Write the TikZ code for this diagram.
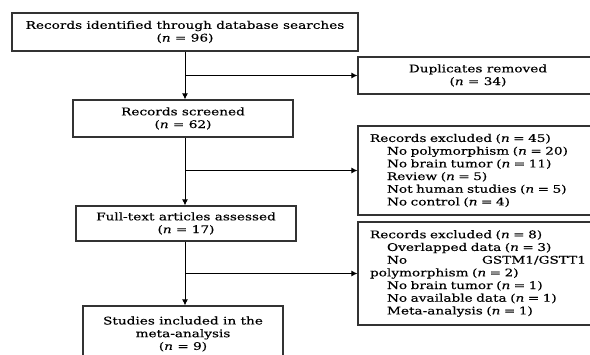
\documentclass[tikz,border=0pt]{standalone}
\usepackage{fontspec}
\setmainfont{DejaVu Serif}[FakeStretch=1.3,FakeBold=0.4]
\usetikzlibrary{arrows.meta}
\newcommand{\ind}{\hspace*{17pt}}
\newcommand{\nn}{\textit{n}}
\begin{document}
\begin{tikzpicture}[x=1pt,y=-1pt,
    box/.style={draw=black!80,line width=1.2pt,rectangle,inner sep=0pt,
      font=\fontsize{10.5}{12.7}\selectfont},
    cbox/.style={box,align=center},
    lbox/.style={box,align=left,text width=216pt,minimum width=240pt},
    arr/.style={-{Latex[length=6pt,width=6pt]},line width=1pt}]
  \useasboundingbox (0,0) rectangle (590,355);

  % boxes of the main column
  \begin{scope}[every node/.style={cbox}]
    \node[minimum width=346pt,minimum height=38pt] (ident) at (185,32)
      {Records identified through database searches\\(\nn{} = 96)};
    \node[minimum width=220pt,minimum height=37pt] (screen) at (183,118.5)
      {Records screened\\(\nn{} = 62)};
    \node[minimum width=220pt,minimum height=35pt] (full) at (186,223.5)
      {Full-text articles assessed\\(\nn{} = 17)};
    \node[minimum width=200pt,minimum height=56pt] (incl) at (183,334)
      {Studies included in the\\meta-analysis\\(\nn{} = 9)};
  \end{scope}

  % boxes on the right
  \node[cbox,minimum width=240pt,minimum height=37pt] (dup) at (478,75.5)
    {Duplicates removed\\(\nn{} = 34)};
  \node[lbox,minimum height=89pt] (excla) at (478,170.5)
    {Records excluded (\nn{} = 45)\\
     \ind No polymorphism (\nn{} = 20)\\
     \ind No brain tumor (\nn{} = 11)\\
     \ind Review (\nn{} = 5)\\
     \ind Not human studies (\nn{} = 5)\\
     \ind No control (\nn{} = 4)};
  \node[lbox,minimum height=103pt] (exclb) at (478,273.5)
    {Records excluded (\nn{} = 8)\\
     \ind Overlapped data (\nn{} = 3)\\
     \ind No\hfill GSTM1/GSTT1\\
     polymorphism (\nn{} = 2)\\
     \ind No brain tumor (\nn{} = 1)\\
     \ind No available data (\nn{} = 1)\\
     \ind Meta-analysis (\nn{} = 1)};

  \begin{scope}[every path/.style={arr}]
    \draw (ident.south) -- (ident.south |- screen.north);
    \draw (ident.south |- screen.south) -- (ident.south |- full.north);
    \draw (ident.south |- full.south) -- (ident.south |- incl.north);
    \draw (ident.south |- dup.west) -- (dup.west);
    \draw (ident.south |- excla.west) -- (excla.west);
    \draw (ident.south |- exclb.west) -- (exclb.west);
  \end{scope}

\end{tikzpicture}
\end{document}
